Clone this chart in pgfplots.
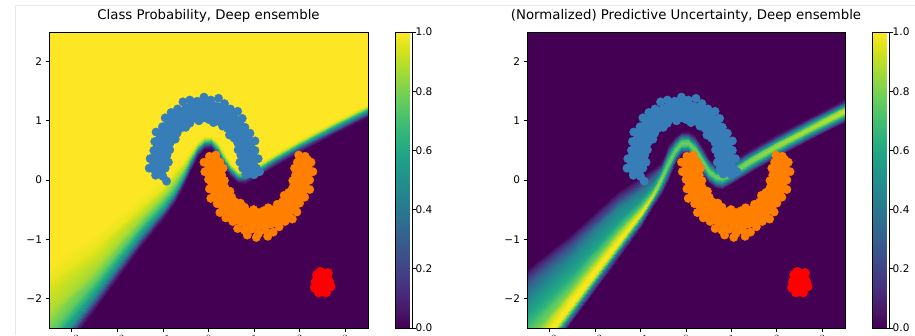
\documentclass[border=0pt]{standalone}
\usepackage{pgfplots}
\usepackage{pgfplotstable}
\pgfplotsset{compat=1.18}
\usepackage{fontspec}
\setmainfont{DejaVu Sans}
\definecolor{vlow}{HTML}{440154}
\definecolor{vhigh}{HTML}{FDE725}
\definecolor{mblue}{HTML}{377EB8}
\definecolor{morange}{HTML}{FF7F00}
\definecolor{mred}{HTML}{FF0000}

% class 0 (blue moon)
\pgfplotstableread{
x y
0.90 0.20
0.75 0.20
1.05 0.20
0.92 0.33
0.69 0.30
1.09 0.36
0.85 0.45
0.71 0.42
1.02 0.50
0.84 0.59
0.65 0.51
1.02 0.66
0.74 0.69
0.64 0.63
0.91 0.79
0.70 0.81
0.56 0.71
0.80 0.89
0.63 0.93
0.46 0.76
0.74 1.04
0.50 0.98
0.42 0.87
0.64 1.16
0.40 1.07
0.31 0.91
0.48 1.20
0.29 1.14
0.23 0.99
0.35 1.29
0.15 1.14
0.11 0.97
0.22 1.38
0.03 1.22
0.01 1.02
0.05 1.35
-0.10 1.19
-0.10 1.05
-0.10 1.40
-0.23 1.21
-0.21 1.00
-0.25 1.33
-0.35 1.15
-0.33 1.04
-0.41 1.35
-0.49 1.15
-0.41 0.96
-0.56 1.32
-0.60 1.07
-0.50 0.89
-0.68 1.20
-0.69 0.97
-0.62 0.87
-0.82 1.14
-0.82 0.92
-0.69 0.79
-0.95 1.05
-0.90 0.81
-0.73 0.69
-1.01 0.90
-0.95 0.69
-0.84 0.63
-1.15 0.81
-1.05 0.59
-0.85 0.51
-1.18 0.65
-1.06 0.46
-0.91 0.42
-1.20 0.50
-1.11 0.33
-0.88 0.30
-1.28 0.36
-1.10 0.20
-0.95 0.20
-1.30 0.20
-1.00 0.06
-0.92 -0.02
-1.16 0.08
-1.22 0.24
1.00 0.09
1.12 0.14
0.82 0.10
}\tblblue

% centre line of the blue moon
\pgfplotstableread{
x y
0.90 0.20
0.87 0.46
0.77 0.70
0.61 0.91
0.40 1.07
0.16 1.17
-0.10 1.20
-0.36 1.17
-0.60 1.07
-0.81 0.91
-0.97 0.70
-1.07 0.46
-1.10 0.20
}\tblbluec

% class 1 (orange moon)
\pgfplotstableread{
x y
0.10 0.30
0.25 0.30
-0.10 0.30
0.09 0.17
0.32 0.20
-0.08 0.14
0.14 0.04
0.29 0.08
0.00 0.01
0.15 -0.09
0.35 -0.01
0.02 -0.15
0.25 -0.19
0.36 -0.13
0.05 -0.31
0.30 -0.32
0.47 -0.19
0.19 -0.40
0.38 -0.42
0.51 -0.29
0.25 -0.55
0.51 -0.47
0.58 -0.37
0.38 -0.64
0.60 -0.57
0.70 -0.39
0.53 -0.70
0.71 -0.65
0.79 -0.46
0.64 -0.82
0.85 -0.65
0.87 -0.54
0.79 -0.85
0.97 -0.71
0.99 -0.50
0.95 -0.83
1.10 -0.69
1.10 -0.55
1.10 -0.90
1.23 -0.72
1.21 -0.52
1.25 -0.85
1.35 -0.64
1.31 -0.47
1.42 -0.88
1.49 -0.64
1.43 -0.50
1.55 -0.79
1.60 -0.57
1.51 -0.41
1.68 -0.70
1.70 -0.48
1.62 -0.37
1.84 -0.66
1.83 -0.43
1.66 -0.26
1.94 -0.54
1.90 -0.31
1.76 -0.21
2.00 -0.39
1.94 -0.19
1.85 -0.13
2.11 -0.29
2.04 -0.09
1.85 -0.01
2.22 -0.16
2.05 0.05
1.91 0.08
2.22 0.00
2.12 0.17
1.89 0.20
2.29 0.14
2.10 0.30
1.95 0.30
2.25 0.30
0.02 0.40
0.16 0.42
1.98 0.42
2.12 0.40
1.05 -0.97
1.30 -0.95
0.85 -0.93
}\tblorange

% centre line of the orange moon
\pgfplotstableread{
x y
0.10 0.30
0.13 0.04
0.23 -0.20
0.39 -0.41
0.60 -0.57
0.84 -0.67
1.10 -0.70
1.36 -0.67
1.60 -0.57
1.81 -0.41
1.97 -0.20
2.07 0.04
2.10 0.30
}\tblorangec

% out-of-distribution points
\pgfplotstableread{
x y
2.50 -1.72
2.40 -1.65
2.60 -1.65
2.40 -1.80
2.60 -1.80
2.50 -1.58
2.50 -1.88
2.35 -1.72
2.65 -1.72
2.45 -1.55
2.58 -1.90
2.42 -1.90
2.62 -1.57
2.68 -1.80
2.33 -1.82
2.38 -1.60
}\tblred

% class probability around the decision boundary
\pgfplotstableread{
x y c
-3.5 -3.23 0
-3.5 -3.14 0.1
-3.5 -3.04 0.3
-3.5 -2.96 0.5
-3.5 -2.76 0.65
-3.5 -2.60 0.75
-3.5 -2.26 0.87
-3.5 -1.71 0.97
-3.5 -1.36 1
-2.5 -2.20 0
-2.5 -2.11 0.1
-2.5 -2.03 0.3
-2.5 -1.95 0.5
-2.5 -1.81 0.65
-2.5 -1.70 0.75
-2.5 -1.50 0.87
-2.5 -1.15 0.97
-2.5 -0.90 1
-1.5 -1.15 0
-1.5 -1.08 0.1
-1.5 -1.01 0.3
-1.5 -0.95 0.5
-1.5 -0.85 0.65
-1.5 -0.77 0.75
-1.5 -0.65 0.87
-1.5 -0.45 0.97
-1.5 -0.25 1
-1.0 -0.67 0
-1.0 -0.61 0.1
-1.0 -0.55 0.3
-1.0 -0.50 0.5
-1.0 -0.42 0.65
-1.0 -0.36 0.75
-1.0 -0.26 0.87
-1.0 -0.12 0.97
-1.0 0.02 1
-0.75 -0.40 0
-0.75 -0.35 0.1
-0.75 -0.295 0.3
-0.75 -0.25 0.5
-0.75 -0.18 0.65
-0.75 -0.12 0.75
-0.75 -0.02 0.87
-0.75 0.11 0.97
-0.75 0.23 1
-0.55 -0.13 0
-0.55 -0.07 0.1
-0.55 -0.02 0.3
-0.55 0.02 0.5
-0.55 0.07 0.65
-0.55 0.11 0.75
-0.55 0.18 0.87
-0.55 0.27 0.97
-0.55 0.36 1
-0.4 0.13 0
-0.4 0.19 0.1
-0.4 0.24 0.3
-0.4 0.28 0.5
-0.4 0.32 0.65
-0.4 0.35 0.75
-0.4 0.39 0.87
-0.4 0.45 0.97
-0.4 0.52 1
-0.25 0.38 0
-0.25 0.43 0.1
-0.25 0.47 0.3
-0.25 0.50 0.5
-0.25 0.53 0.65
-0.25 0.55 0.75
-0.25 0.58 0.87
-0.25 0.62 0.97
-0.25 0.67 1
-0.1 0.52 0
-0.1 0.56 0.1
-0.1 0.59 0.3
-0.1 0.62 0.5
-0.1 0.645 0.65
-0.1 0.665 0.75
-0.1 0.69 0.87
-0.1 0.72 0.97
-0.1 0.75 1
0.05 0.53 0
0.05 0.57 0.1
0.05 0.60 0.3
0.05 0.63 0.5
0.05 0.655 0.65
0.05 0.675 0.75
0.05 0.70 0.87
0.05 0.73 0.97
0.05 0.76 1
0.2 0.36 0
0.2 0.42 0.1
0.2 0.46 0.3
0.2 0.50 0.5
0.2 0.53 0.65
0.2 0.555 0.75
0.2 0.59 0.87
0.2 0.63 0.97
0.2 0.67 1
0.35 0.18 0
0.35 0.24 0.1
0.35 0.28 0.3
0.35 0.32 0.5
0.35 0.35 0.65
0.35 0.375 0.75
0.35 0.41 0.87
0.35 0.45 0.97
0.35 0.49 1
0.5 0.03 0
0.5 0.08 0.1
0.5 0.115 0.3
0.5 0.15 0.5
0.5 0.18 0.65
0.5 0.20 0.75
0.5 0.23 0.87
0.5 0.26 0.97
0.5 0.30 1
0.65 -0.05 0
0.65 -0.01 0.1
0.65 0.02 0.3
0.65 0.05 0.5
0.65 0.075 0.65
0.65 0.095 0.75
0.65 0.12 0.87
0.65 0.15 0.97
0.65 0.18 1
0.8 -0.06 0
0.8 -0.02 0.1
0.8 0.01 0.3
0.8 0.04 0.5
0.8 0.065 0.65
0.8 0.085 0.75
0.8 0.11 0.87
0.8 0.14 0.97
0.8 0.17 1
1.0 0.02 0
1.0 0.06 0.1
1.0 0.09 0.3
1.0 0.12 0.5
1.0 0.145 0.65
1.0 0.165 0.75
1.0 0.19 0.87
1.0 0.22 0.97
1.0 0.25 1
1.5 0.25 0
1.5 0.295 0.1
1.5 0.33 0.3
1.5 0.36 0.5
1.5 0.385 0.65
1.5 0.405 0.75
1.5 0.43 0.87
1.5 0.46 0.97
1.5 0.49 1
2.0 0.47 0
2.0 0.515 0.1
2.0 0.55 0.3
2.0 0.58 0.5
2.0 0.605 0.65
2.0 0.625 0.75
2.0 0.65 0.87
2.0 0.68 0.97
2.0 0.71 1
2.75 0.77 0
2.75 0.815 0.1
2.75 0.85 0.3
2.75 0.88 0.5
2.75 0.905 0.65
2.75 0.925 0.75
2.75 0.95 0.87
2.75 0.98 0.97
2.75 1.01 1
3.5 1.06 0
3.5 1.105 0.1
3.5 1.14 0.3
3.5 1.17 0.5
3.5 1.195 0.65
3.5 1.215 0.75
3.5 1.24 0.87
3.5 1.27 0.97
3.5 1.30 1
}\probmesh

% normalized predictive uncertainty around the decision boundary
\pgfplotstableread{
x y c
-3.5 -3.42 0
-3.5 -3.32 0.3
-3.5 -3.22 0.75
-3.5 -3.13 0.97
-3.5 -3.06 1
-3.5 -2.96 0.95
-3.5 -2.76 0.8
-3.5 -2.46 0.68
-3.5 -2.06 0.48
-3.5 -1.76 0.28
-3.5 -1.51 0
-2.5 -2.39 0
-2.5 -2.30 0.3
-2.5 -2.20 0.75
-2.5 -2.12 0.97
-2.5 -2.05 1
-2.5 -1.95 0.95
-2.5 -1.80 0.78
-2.5 -1.60 0.62
-2.5 -1.30 0.46
-2.5 -1.10 0.26
-2.5 -0.90 0
-1.5 -1.33 0
-1.5 -1.24 0.28
-1.5 -1.16 0.7
-1.5 -1.09 0.96
-1.5 -1.03 1
-1.5 -0.96 0.93
-1.5 -0.85 0.75
-1.5 -0.70 0.55
-1.5 -0.48 0.44
-1.5 -0.33 0.2
-1.5 -0.18 0
-1.0 -0.79 0
-1.0 -0.72 0.25
-1.0 -0.65 0.65
-1.0 -0.59 0.93
-1.0 -0.55 0.98
-1.0 -0.50 0.9
-1.0 -0.42 0.7
-1.0 -0.31 0.5
-1.0 -0.17 0.38
-1.0 -0.05 0.16
-1.0 0.07 0
-0.75 -0.47 0
-0.75 -0.41 0.25
-0.75 -0.355 0.6
-0.75 -0.305 0.88
-0.75 -0.27 0.93
-0.75 -0.23 0.85
-0.75 -0.17 0.65
-0.75 -0.09 0.46
-0.75 0.03 0.3
-0.75 0.11 0.12
-0.75 0.19 0
-0.55 -0.246 0
-0.55 -0.169 0.246
-0.55 -0.099 0.533
-0.55 -0.036 0.763
-0.55 0.02 0.82
-0.55 0.076 0.763
-0.55 0.139 0.55
-0.55 0.209 0.28
-0.55 0.258 0.1
-0.55 0.286 0.03
-0.55 0.314 0
-0.4 -0.024 0
-0.4 0.064 0.231
-0.4 0.144 0.5
-0.4 0.216 0.716
-0.4 0.28 0.77
-0.4 0.344 0.716
-0.4 0.416 0.5
-0.4 0.496 0.231
-0.4 0.552 0.077
-0.4 0.584 0.023
-0.4 0.616 0
-0.25 0.272 0
-0.25 0.338 0.234
-0.25 0.398 0.507
-0.25 0.452 0.725
-0.25 0.50 0.78
-0.25 0.548 0.725
-0.25 0.602 0.507
-0.25 0.662 0.234
-0.25 0.704 0.078
-0.25 0.728 0.023
-0.25 0.752 0
-0.1 0.43 0
-0.1 0.485 0.234
-0.1 0.535 0.507
-0.1 0.58 0.725
-0.1 0.62 0.78
-0.1 0.66 0.725
-0.1 0.705 0.507
-0.1 0.755 0.234
-0.1 0.79 0.078
-0.1 0.81 0.023
-0.1 0.83 0
0.05 0.44 0
0.05 0.495 0.234
0.05 0.545 0.507
0.05 0.59 0.725
0.05 0.63 0.78
0.05 0.67 0.725
0.05 0.715 0.507
0.05 0.765 0.234
0.05 0.80 0.078
0.05 0.82 0.023
0.05 0.84 0
0.2 0.253 0
0.2 0.3245 0.234
0.2 0.3895 0.507
0.2 0.448 0.725
0.2 0.50 0.78
0.2 0.552 0.725
0.2 0.6105 0.507
0.2 0.6755 0.234
0.2 0.721 0.078
0.2 0.747 0.023
0.2 0.773 0
0.35 0.073 0
0.35 0.1445 0.234
0.35 0.2095 0.507
0.35 0.268 0.725
0.35 0.32 0.78
0.35 0.372 0.725
0.35 0.4305 0.507
0.35 0.4955 0.234
0.35 0.541 0.078
0.35 0.567 0.023
0.35 0.593 0
0.5 -0.059 0
0.5 0.0015 0.234
0.5 0.0565 0.507
0.5 0.106 0.725
0.5 0.15 0.78
0.5 0.194 0.725
0.5 0.2435 0.507
0.5 0.2985 0.234
0.5 0.337 0.078
0.5 0.359 0.023
0.5 0.381 0
0.65 -0.14 0
0.65 -0.085 0.234
0.65 -0.035 0.507
0.65 0.01 0.725
0.65 0.05 0.78
0.65 0.09 0.725
0.65 0.135 0.507
0.65 0.185 0.234
0.65 0.22 0.078
0.65 0.24 0.023
0.65 0.26 0
0.8 -0.15 0
0.8 -0.095 0.234
0.8 -0.045 0.507
0.8 0.00 0.725
0.8 0.04 0.78
0.8 0.08 0.725
0.8 0.125 0.507
0.8 0.175 0.234
0.8 0.21 0.078
0.8 0.23 0.023
0.8 0.25 0
1.0 -0.07 0
1.0 -0.015 0.24
1.0 0.035 0.52
1.0 0.08 0.744
1.0 0.12 0.8
1.0 0.16 0.744
1.0 0.205 0.52
1.0 0.255 0.24
1.0 0.29 0.08
1.0 0.31 0.024
1.0 0.33 0
1.5 0.17 0
1.5 0.225 0.249
1.5 0.275 0.54
1.5 0.32 0.772
1.5 0.36 0.83
1.5 0.40 0.772
1.5 0.445 0.54
1.5 0.495 0.249
1.5 0.53 0.083
1.5 0.55 0.025
1.5 0.57 0
2.0 0.39 0
2.0 0.445 0.258
2.0 0.495 0.559
2.0 0.54 0.8
2.0 0.58 0.86
2.0 0.62 0.8
2.0 0.665 0.559
2.0 0.715 0.258
2.0 0.75 0.086
2.0 0.77 0.026
2.0 0.79 0
2.75 0.69 0
2.75 0.745 0.267
2.75 0.795 0.579
2.75 0.84 0.828
2.75 0.88 0.89
2.75 0.92 0.828
2.75 0.965 0.579
2.75 1.015 0.267
2.75 1.05 0.089
2.75 1.07 0.027
2.75 1.09 0
3.5 0.98 0
3.5 1.035 0.276
3.5 1.085 0.598
3.5 1.13 0.856
3.5 1.17 0.92
3.5 1.21 0.856
3.5 1.255 0.598
3.5 1.305 0.276
3.5 1.34 0.092
3.5 1.36 0.028
3.5 1.38 0
}\uncmesh

\pgfplotsset{
  panel/.style={
    scale only axis, height=296pt, anchor=south west,
    xmin=-3.5, xmax=3.5, ymin=-2.5, ymax=2.5, enlargelimits=false,
    axis background/.style={fill=vlow},
    axis on top,
    axis line style={line width=0.8pt, black},
    xtick={-3,-2,-1,0,1,2,3}, xticklabel={},
    ytick={-2,-1,0,1,2}, yticklabels={−2,−1,0,1,2},
    xtick pos=left, ytick pos=left,
    tick align=outside, major tick length=3.5pt,
    every tick/.style={black, line width=0.8pt},
    tick label style={font=\fontsize{10.5}{12}\selectfont},
    colormap/viridis, point meta min=0, point meta max=1,
    title style={at={(0.5,1)}, anchor=base, yshift=7pt, font=\fontsize{13.3}{16}\selectfont},
    colorbar,
    colorbar style={
      scale only axis,
      width=16.5pt,
      at={(parent axis.north east)}, anchor=north west, xshift=19pt,
      ytick={0,0.2,0.4,0.6,0.8,1},
      yticklabels={0.0,0.2,0.4,0.6,0.8,1.0},
      ytick pos=right, yticklabel pos=right,
      tick align=outside, major tick length=3.5pt,
      every tick/.style={black, line width=0.8pt},
      axis line style={line width=0.8pt, black},
      yticklabel style={font=\fontsize{10.5}{12}\selectfont, inner sep=1pt, xshift=-1pt},
    },
  },
  moonblue/.style={only marks, mark=*, mark size=4.2pt, color=mblue, mark options={draw=none, fill=mblue}},
  moonorange/.style={only marks, mark=*, mark size=4.2pt, color=morange, mark options={draw=none, fill=morange}},
  bandblue/.style={no marks, draw=mblue, line width=17pt, line cap=round, line join=round},
  bandorange/.style={no marks, draw=morange, line width=17pt, line cap=round, line join=round},
  oodred/.style={only marks, mark=*, mark size=4.6pt, color=mred, mark options={draw=none, fill=mred}},
}

\begin{document}
\begin{tikzpicture}
\useasboundingbox (0pt,0pt) rectangle (915pt,335pt);
\draw[black!9, line width=0.8pt] (15pt,0pt) -- (15pt,330pt) -- (915pt,330pt);

\begin{axis}[panel, at={(49pt,7pt)}, width=319pt,
  title={Class Probability, Deep ensemble}]
\addplot[draw=none, fill=vhigh] coordinates {
(-3.5,2.5) (-3.5,-1.71) (-2.5,-1.15) (-1.5,-0.45) (-1.0,-0.12) (-0.75,0.11)
(-0.55,0.27) (-0.4,0.45) (-0.25,0.62) (-0.1,0.72) (0.05,0.73) (0.2,0.63)
(0.35,0.45) (0.5,0.26) (0.65,0.15) (0.8,0.14) (1.0,0.22) (1.5,0.46)
(2.0,0.68) (2.75,0.98) (3.5,1.27) (3.5,2.5)};
\addplot[surf, shader=interp, mesh/cols=9, point meta=explicit]
  table[x=x, y=y, meta=c] {\probmesh};
\addplot[bandblue] table[x=x, y=y] {\tblbluec};
\addplot[bandorange] table[x=x, y=y] {\tblorangec};
\addplot[moonblue] table[x=x, y=y] {\tblblue};
\addplot[moonorange] table[x=x, y=y] {\tblorange};
\addplot[oodred] table[x=x, y=y] {\tblred};
\end{axis}

\begin{axis}[panel, at={(527pt,7pt)}, width=318pt,
  title={(Normalized) Predictive Uncertainty, Deep ensemble}]
\addplot[surf, shader=interp, mesh/cols=11, point meta=explicit]
  table[x=x, y=y, meta=c] {\uncmesh};
\addplot[bandblue] table[x=x, y=y] {\tblbluec};
\addplot[bandorange] table[x=x, y=y] {\tblorangec};
\addplot[moonblue] table[x=x, y=y] {\tblblue};
\addplot[moonorange] table[x=x, y=y] {\tblorange};
\addplot[oodred] table[x=x, y=y] {\tblred};
\end{axis}
\end{tikzpicture}
\end{document}
